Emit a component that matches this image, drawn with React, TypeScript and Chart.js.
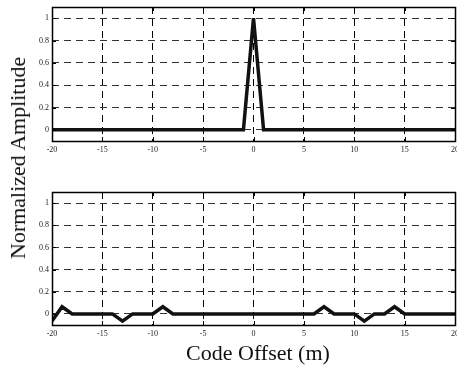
import React, { useEffect, useRef } from "react";
import { Chart, registerables } from "chart.js";

Chart.register(...registerables);

const offsets: number[] = Array.from({ length: 41 }, (_, i) => i - 20);
// autocorrelation (top), offsets -20..20
const autoValues: number[] = [
  0, 0, 0, 0, 0, 0, 0, 0, 0, 0, // -20..-11
  0, 0, 0, 0, 0, 0, 0, 0, 0, 0, // -10..-1
  1, // 0
  0, 0, 0, 0, 0, 0, 0, 0, 0, 0, // 1..10
  0, 0, 0, 0, 0, 0, 0, 0, 0, 0, // 11..20
];
// cross-correlation (bottom), offsets -20..20
const crossValues: number[] = [
  -0.065, 0.065, 0, 0, 0, 0, 0, -0.065, 0, 0, // -20..-11
  0, 0.065, 0, 0, 0, 0, 0, 0, 0, 0, // -10..-1
  0, // 0
  0, 0, 0, 0, 0, 0, 0.065, 0, 0, 0, // 1..10
  -0.065, 0, 0, 0.065, 0, 0, 0, 0, 0, 0, // 11..20
];
const xTicks: number[] = [-20, -15, -10, -5, 0, 5, 10, 15, 20];
const yTicks: number[] = [0, 0.2, 0.4, 0.6, 0.8, 1];
const yLabel = "Normalized Amplitude";
const xLabel = "Code Offset (m)";

const FONT = "'Liberation Serif', 'Times New Roman', serif";

const boxPlugin = {
  id: "boxPlugin",
  afterDraw(chart: any) {
    const { ctx, chartArea } = chart;
    const { left, right, top, bottom } = chartArea;
    const xs = chart.scales.x;
    const ys = chart.scales.y;
    ctx.save();
    ctx.strokeStyle = "#000";
    ctx.lineWidth = 1;
    ctx.beginPath();
    const tl = 4;
    xTicks.forEach((v) => {
      const px = Math.round(xs.getPixelForValue(v)) + 0.5;
      ctx.moveTo(px, bottom);
      ctx.lineTo(px, bottom - tl);
      ctx.moveTo(px, top);
      ctx.lineTo(px, top + tl);
    });
    yTicks.forEach((v) => {
      const py = Math.round(ys.getPixelForValue(v)) + 0.5;
      ctx.moveTo(left, py);
      ctx.lineTo(left + tl, py);
      ctx.moveTo(right, py);
      ctx.lineTo(right - tl, py);
    });
    ctx.stroke();
    ctx.lineWidth = 1.5;
    ctx.strokeRect(Math.round(left) + 0.5, Math.round(top) + 0.5, Math.round(right - left), Math.round(bottom - top));
    ctx.restore();
  },
};

function makeConfig(values: number[], xAxisHeight: number): any {
  return {
    type: "line",
    data: {
      datasets: [
        {
          data: offsets.map((x, i) => ({ x, y: values[i] })),
          borderColor: "#111",
          borderWidth: 3.5,
          pointRadius: 0,
          tension: 0,
          fill: false,
        },
      ],
    },
    options: {
      animation: false,
      responsive: false,
      devicePixelRatio: 1,
      layout: { padding: { left: 0, right: 2, top: 7, bottom: 0 } },
      plugins: { legend: { display: false }, tooltip: { enabled: false }, title: { display: false } },
      scales: {
        x: {
          type: "linear",
          min: -20,
          max: 20,
          afterBuildTicks: (s: any) => {
            s.ticks = xTicks.map((v) => ({ value: v }));
          },
          afterFit: (s: any) => {
            s.height = xAxisHeight;
            s.paddingLeft = 0;
            s.paddingRight = 0;
          },
          grid: { color: "#000", lineWidth: 1, drawTicks: false },
          border: { display: false, dash: [7, 5] },
          ticks: {
            autoSkip: false,
            maxRotation: 0,
            padding: 4,
            color: "#222",
            font: { family: FONT, size: 8 },
          },
        },
        y: {
          type: "linear",
          min: -0.1,
          max: 1.1,
          afterBuildTicks: (s: any) => {
            s.ticks = yTicks.map((v) => ({ value: v }));
          },
          afterFit: (s: any) => {
            s.width = 52;
            s.paddingTop = 0;
            s.paddingBottom = 0;
          },
          grid: { color: "#333", lineWidth: 1, drawTicks: false },
          border: { display: false, dash: [7, 5] },
          ticks: {
            padding: 3,
            color: "#222",
            font: { family: FONT, size: 8 },
            callback: (v: any) => String(Math.round(Number(v) * 10) / 10),
          },
        },
      },
    },
    plugins: [boxPlugin],
  };
}

export default function App() {
  const topRef = useRef<HTMLCanvasElement>(null);
  const botRef = useRef<HTMLCanvasElement>(null);

  useEffect(() => {
    const c1 = new Chart(topRef.current as HTMLCanvasElement, makeConfig(autoValues, 19));
    const c2 = new Chart(botRef.current as HTMLCanvasElement, makeConfig(crossValues, 43));
    return () => {
      c1.destroy();
      c2.destroy();
    };
  }, []);

  return (
    <div style={{ position: "fixed", left: 0, top: 0, width: 457, height: 368, background: "#fff", overflow: "hidden" }}>
      <canvas ref={topRef} width={457} height={160} style={{ position: "absolute", left: 0, top: 0, width: 457, height: 160 }} />
      <canvas ref={botRef} width={457} height={183} style={{ position: "absolute", left: 0, top: 185, width: 457, height: 183 }} />
      <div
        style={{
          position: "absolute",
          left: 18,
          top: 158,
          transform: "translate(-50%, -50%) rotate(-90deg)",
          whiteSpace: "nowrap",
          fontFamily: FONT,
          fontSize: 22,
          lineHeight: 1,
          color: "#111",
        }}
      >
        {yLabel}
      </div>
      <div
        style={{
          position: "absolute",
          left: 258,
          top: 353,
          transform: "translate(-50%, -50%)",
          whiteSpace: "nowrap",
          fontFamily: FONT,
          fontSize: 22,
          lineHeight: 1,
          color: "#111",
        }}
      >
        {xLabel}
      </div>
    </div>
  );
}
